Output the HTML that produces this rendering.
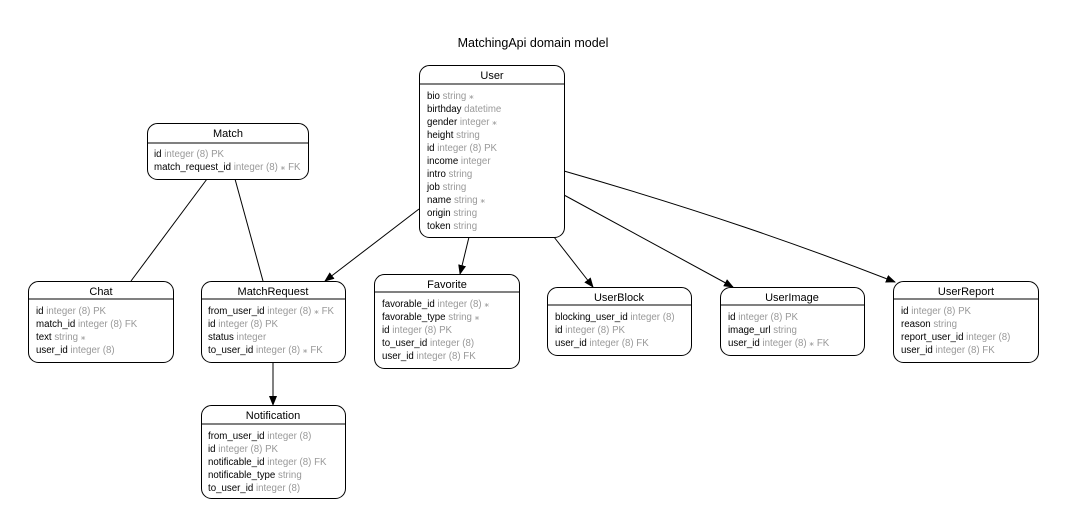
<!DOCTYPE html>
<html><head><meta charset="utf-8"><style>
html,body{margin:0;padding:0;background:#fff;}
svg{display:block;font-family:"Liberation Sans",Arial,sans-serif;}
.h{font-size:11px;text-anchor:middle;fill:#000;}
.r{font-size:9.7px;fill:#000;}
.t{fill:#999;}
.b{fill:#fff;stroke:#000;stroke-width:1;}
.l{stroke:#000;stroke-width:1;fill:none;}
</style></head><body>
<svg width="1067" height="529" viewBox="0 0 1067 529" xmlns="http://www.w3.org/2000/svg">
<defs><marker id="a" markerWidth="10" markerHeight="8" refX="9" refY="4" orient="auto" markerUnits="userSpaceOnUse"><path d="M0,0 L10,4 L0,8 z" fill="#000"/></marker></defs>
<text x="533" y="47" style="font-size:12.5px" text-anchor="middle">MatchingApi domain model</text>

<!-- edges -->
<line class="l" x1="207" y1="179" x2="131" y2="281"/>
<line class="l" x1="235" y1="179" x2="263" y2="281"/>
<line class="l" x1="419" y1="209" x2="325" y2="281" marker-end="url(#a)"/>
<line class="l" x1="469" y1="237" x2="460" y2="274" marker-end="url(#a)"/>
<line class="l" x1="554" y1="237" x2="593" y2="287" marker-end="url(#a)"/>
<line class="l" x1="564" y1="195" x2="733" y2="287" marker-end="url(#a)"/>
<path class="l" d="M564,171 C700,210 800,245 895,282" marker-end="url(#a)"/>
<line class="l" x1="273" y1="362" x2="273" y2="405" marker-end="url(#a)"/>

<!-- User -->
<rect class="b" x="419.5" y="65.5" width="145" height="172" rx="10"/>
<text class="h" x="492" y="79">User</text><line class="l" x1="419.5" y1="84" x2="564.5" y2="84"/>
<g class="r">
<text x="427" y="99">bio <tspan class="t">string ⁎</tspan></text>
<text x="427" y="112">birthday <tspan class="t">datetime</tspan></text>
<text x="427" y="125">gender <tspan class="t">integer ⁎</tspan></text>
<text x="427" y="138">height <tspan class="t">string</tspan></text>
<text x="427" y="151">id <tspan class="t">integer (8) PK</tspan></text>
<text x="427" y="164">income <tspan class="t">integer</tspan></text>
<text x="427" y="177">intro <tspan class="t">string</tspan></text>
<text x="427" y="190">job <tspan class="t">string</tspan></text>
<text x="427" y="203">name <tspan class="t">string ⁎</tspan></text>
<text x="427" y="216">origin <tspan class="t">string</tspan></text>
<text x="427" y="229">token <tspan class="t">string</tspan></text>
</g>

<!-- Match -->
<rect class="b" x="147.5" y="123.5" width="161" height="56" rx="10"/>
<text class="h" x="228" y="137">Match</text><line class="l" x1="147.5" y1="143" x2="308.5" y2="143"/>
<g class="r">
<text x="154" y="157">id <tspan class="t">integer (8) PK</tspan></text>
<text x="154" y="170">match_request_id <tspan class="t">integer (8) ⁎ FK</tspan></text>
</g>

<!-- Chat -->
<rect class="b" x="28.5" y="281.5" width="145" height="81" rx="10"/>
<text class="h" x="101" y="295">Chat</text><line class="l" x1="28.5" y1="299" x2="173.5" y2="299"/>
<g class="r">
<text x="36" y="314">id <tspan class="t">integer (8) PK</tspan></text>
<text x="36" y="327">match_id <tspan class="t">integer (8) FK</tspan></text>
<text x="36" y="340">text <tspan class="t">string ⁎</tspan></text>
<text x="36" y="353">user_id <tspan class="t">integer (8)</tspan></text>
</g>

<!-- MatchRequest -->
<rect class="b" x="201.5" y="281.5" width="144" height="81" rx="10"/>
<text class="h" x="273" y="295">MatchRequest</text><line class="l" x1="201.5" y1="299" x2="345.5" y2="299"/>
<g class="r">
<text x="208" y="314">from_user_id <tspan class="t">integer (8) ⁎ FK</tspan></text>
<text x="208" y="327">id <tspan class="t">integer (8) PK</tspan></text>
<text x="208" y="340">status <tspan class="t">integer</tspan></text>
<text x="208" y="353">to_user_id <tspan class="t">integer (8) ⁎ FK</tspan></text>
</g>

<!-- Favorite -->
<rect class="b" x="374.5" y="274.5" width="145" height="94" rx="10"/>
<text class="h" x="447" y="288">Favorite</text><line class="l" x1="374.5" y1="292" x2="519.5" y2="292"/>
<g class="r">
<text x="382" y="307">favorable_id <tspan class="t">integer (8) ⁎</tspan></text>
<text x="382" y="320">favorable_type <tspan class="t">string ⁎</tspan></text>
<text x="382" y="333">id <tspan class="t">integer (8) PK</tspan></text>
<text x="382" y="346">to_user_id <tspan class="t">integer (8)</tspan></text>
<text x="382" y="359">user_id <tspan class="t">integer (8) FK</tspan></text>
</g>

<!-- UserBlock -->
<rect class="b" x="547.5" y="287.5" width="144" height="68" rx="10"/>
<text class="h" x="619" y="301">UserBlock</text><line class="l" x1="547.5" y1="305" x2="691.5" y2="305"/>
<g class="r">
<text x="555" y="320">blocking_user_id <tspan class="t">integer (8)</tspan></text>
<text x="555" y="333">id <tspan class="t">integer (8) PK</tspan></text>
<text x="555" y="346">user_id <tspan class="t">integer (8) FK</tspan></text>
</g>

<!-- UserImage -->
<rect class="b" x="720.5" y="287.5" width="144" height="68" rx="10"/>
<text class="h" x="792" y="301">UserImage</text><line class="l" x1="720.5" y1="305" x2="864.5" y2="305"/>
<g class="r">
<text x="728" y="320">id <tspan class="t">integer (8) PK</tspan></text>
<text x="728" y="333">image_url <tspan class="t">string</tspan></text>
<text x="728" y="346">user_id <tspan class="t">integer (8) ⁎ FK</tspan></text>
</g>

<!-- UserReport -->
<rect class="b" x="893.5" y="281.5" width="145" height="81" rx="10"/>
<text class="h" x="966" y="295">UserReport</text><line class="l" x1="893.5" y1="299" x2="1038.5" y2="299"/>
<g class="r">
<text x="901" y="314">id <tspan class="t">integer (8) PK</tspan></text>
<text x="901" y="327">reason <tspan class="t">string</tspan></text>
<text x="901" y="340">report_user_id <tspan class="t">integer (8)</tspan></text>
<text x="901" y="353">user_id <tspan class="t">integer (8) FK</tspan></text>
</g>

<!-- Notification -->
<rect class="b" x="201.5" y="405.5" width="144" height="93" rx="10"/>
<text class="h" x="273" y="419">Notification</text><line class="l" x1="201.5" y1="424" x2="345.5" y2="424"/>
<g class="r">
<text x="208" y="439">from_user_id <tspan class="t">integer (8)</tspan></text>
<text x="208" y="452">id <tspan class="t">integer (8) PK</tspan></text>
<text x="208" y="465">notificable_id <tspan class="t">integer (8) FK</tspan></text>
<text x="208" y="478">notificable_type <tspan class="t">string</tspan></text>
<text x="208" y="491">to_user_id <tspan class="t">integer (8)</tspan></text>
</g>
</svg>
</body></html>
